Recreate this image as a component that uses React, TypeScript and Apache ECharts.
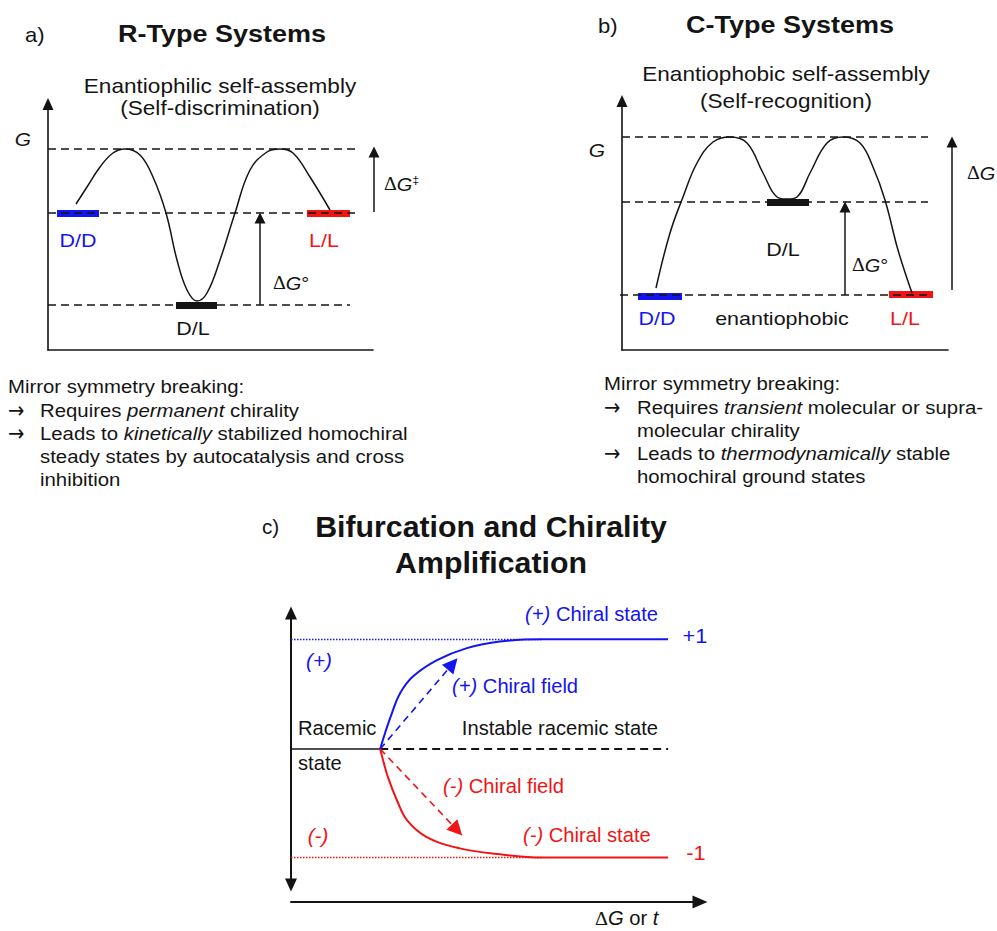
import React, { useEffect, useRef } from "react";
import * as echarts from "echarts";

const FONT = '"Liberation Sans", Arial, Helvetica, sans-serif';
const SERIF = '"Liberation Serif", "DejaVu Serif", serif';
const ARROWFONT = '"DejaVu Sans", sans-serif';
const INK = "#141414";
const BLUE = "#1414f0";
const RED = "#f01414";

// ---------- Panel a) R-type systems: free-energy profile (x = reaction coordinate, y = G)
const aCurveX = [28, 39, 52, 65, 77, 92, 105, 118, 129, 139, 149, 159, 172, 187, 202, 219, 232, 245, 262, 282];
const aCurveG = [146, 163, 183, 197, 201, 195, 173, 137, 90, 60, 49, 57, 90, 137, 180, 198, 201, 197, 173, 140];
const aLevelG = [201, 137, 45];
const aLevelEnd = [309, 309, 302];
const aStateNames = ["D/D", "L/L", "D/L"];
const aStateFrom = [9, 259, 128];
const aStateTo = [51, 302, 169];
const aStateG = [137, 137, 45];
const aArrowX = [212, 326];
const aArrowFrom = [45, 138];
const aArrowTo = [132, 198];

// ---------- Panel b) C-type systems
const bCurveX = [34, 48, 61, 75, 91, 108, 125, 141, 155, 165, 175, 188, 205, 221, 238, 251, 263, 276, 290];
const bCurveG = [62, 117, 153, 187, 208, 213, 207, 177, 153, 151, 153, 177, 207, 213, 207, 183, 150, 100, 57];
const bLevelG = [213, 148, 55];
const bLevelStart = [0, 0, -2];
const bLevelEnd = [306, 306, 306];
const bStateNames = ["D/D", "L/L", "D/L"];
const bStateFrom = [16, 267, 145];
const bStateTo = [60, 311, 187];
const bStateG = [54, 56, 148];
const bArrowX = [223, 330];
const bArrowFrom = [55, 60];
const bArrowTo = [143, 208];

// ---------- Panel c) bifurcation (x = ΔG or t, y = enantiomeric excess)
const cPlusT = [2.18, 2.3, 2.47, 2.67, 2.98, 3.57, 4.3, 5.11, 6.16, 9.22];
const cPlusEE = [0, 0.146, 0.33, 0.51, 0.66, 0.81, 0.92, 0.98, 1.0, 1.0];
const cMinusT = [2.18, 2.25, 2.37, 2.59, 2.84, 3.33, 4.13, 5.11, 6.16, 9.22];
const cMinusEE = [0, -0.1, -0.256, -0.467, -0.65, -0.805, -0.906, -0.96, -0.99, -0.99];
const cBifurcationT = 2.18;
const cEndT = 9.22;
const cDottedEndT = 6.16;
const cLimitEE = [1, -0.99];
const cFieldTipT = [3.95, 4.06];
const cFieldTipEE = [0.775, -0.738];

const stateColors = [BLUE, RED, INK];

type TOpt = {
  size?: number;
  color?: string;
  weight?: string;
  style?: string;
  align?: string;
  sx?: number;
  family?: string;
  rich?: any;
};

function txt(x: number, y: number, text: string, o: TOpt = {}) {
  return {
    type: "text",
    x,
    y,
    scaleX: o.sx ?? 1,
    silent: true,
    style: {
      text,
      fill: o.color ?? INK,
      fontSize: o.size ?? 18.5,
      fontFamily: o.family ?? FONT,
      fontWeight: o.weight ?? "normal",
      fontStyle: o.style ?? "normal",
      textAlign: o.align ?? "left",
      textVerticalAlign: "middle",
      verticalAlign: "middle",
      rich: o.rich,
    },
  };
}

function richSet(size: number, color: string) {
  return {
    n: { fontSize: size, fontFamily: FONT, fill: color, color },
    i: { fontSize: size, fontFamily: FONT, fontStyle: "italic", fill: color, color },
    d: { fontSize: size, fontFamily: SERIF, fill: color, color },
    s: { fontSize: size * 0.62, fontFamily: FONT, fill: color, color, verticalAlign: "top" },
  };
}

const hiddenBits = {
  axisTick: { show: false },
  axisLabel: { show: false },
  splitLine: { show: false },
};

function seg(x0: number, y0: number, x1: number, y1: number, color: string = INK) {
  return { coords: [[x0, y0], [x1, y1]], lineStyle: { color } };
}

function linesSeries(idx: number, data: any[], style: any, extra: any = {}) {
  return {
    type: "lines",
    coordinateSystem: "cartesian2d",
    xAxisIndex: idx,
    yAxisIndex: idx,
    polyline: false,
    silent: true,
    clip: false,
    lineStyle: { opacity: 1, curveness: 0, ...style },
    data,
    ...extra,
  };
}

function curveSeries(idx: number, xs: number[], ys: number[], color: string, width: number, z = 3) {
  return {
    type: "line",
    xAxisIndex: idx,
    yAxisIndex: idx,
    data: xs.map((x, i) => [x, ys[i]]),
    smooth: 0.4,
    showSymbol: false,
    symbol: "none",
    clip: false,
    silent: true,
    z,
    lineStyle: { color, width },
  };
}

export default function App() {
  const ref = useRef<HTMLDivElement>(null);

  useEffect(() => {
    if (!ref.current) return;
    const chart = echarts.init(ref.current, undefined, { renderer: "svg" });

    const SX = 1.13; // glyph width factor of the upper panels
    const CX = 1.035; // glyph width factor of panel c
    const rA = richSet(18.5, INK);
    const rLabel = richSet(19, INK);
    const rC = (c: string) => richSet(19.5, c);
    const arrow = (x: number, y: number) => txt(x, y, "→", { size: 23, family: ARROWFONT, sx: 0.85 });

    const graphics: any[] = [
      // ----- panel a
      txt(25, 35, "a)", { size: 20, sx: 1.1 }),
      txt(222, 34, "R-Type Systems", { size: 24, weight: "bold", align: "center", sx: 1.125 }),
      txt(220, 86, "Enantiophilic self-assembly", { size: 20, align: "center", sx: SX }),
      txt(220, 108, "(Self-discrimination)", { size: 20, align: "center", sx: SX }),
      txt(23, 139, "G", { size: 19, style: "italic", align: "center", sx: 1.1 }),
      txt(78, 240, "D/D", { size: 19, color: BLUE, align: "center", sx: SX }),
      txt(324, 240, "L/L", { size: 19, color: RED, align: "center", sx: SX }),
      txt(193, 328, "D/L", { size: 19, align: "center", sx: SX }),
      txt(273, 283, "{d|Δ}{i|G}{n|°}", { size: 19, sx: 1.05, rich: rLabel }),
      txt(384, 184, "{d|Δ}{i|G}{s|‡}", { size: 19, sx: 1.05, rich: rLabel }),
      txt(8, 386, "Mirror symmetry breaking:", { sx: 1.1 }),
      arrow(8, 410),
      txt(40, 410, "{n|Requires }{i|permanent}{n| chirality}", { sx: 1.1, rich: rA }),
      arrow(8, 433),
      txt(40, 433, "{n|Leads to }{i|kinetically}{n| stabilized homochiral}", { sx: 1.1, rich: rA }),
      txt(40, 456, "steady states by autocatalysis and cross", { sx: 1.1 }),
      txt(40, 479, "inhibition", { sx: 1.1 }),
      // ----- panel b
      txt(598, 26, "b)", { size: 20, sx: 1.1 }),
      txt(790, 25, "C-Type Systems", { size: 24, weight: "bold", align: "center", sx: 1.125 }),
      txt(786, 74, "Enantiophobic self-assembly", { size: 20, align: "center", sx: SX }),
      txt(786, 101, "(Self-recognition)", { size: 20, align: "center", sx: SX }),
      txt(597, 150, "G", { size: 19, style: "italic", align: "center", sx: 1.1 }),
      txt(657, 318, "D/D", { size: 19, color: BLUE, align: "center", sx: SX }),
      txt(782, 318, "enantiophobic", { size: 19, align: "center", sx: SX }),
      txt(905, 318, "L/L", { size: 19, color: RED, align: "center", sx: SX }),
      txt(783, 249, "D/L", { size: 19, align: "center", sx: SX }),
      txt(852, 265, "{d|Δ}{i|G}{n|°}", { size: 19, sx: 1.05, rich: rLabel }),
      txt(967, 173, "{d|Δ}{i|G}", { size: 19, sx: 1.05, rich: rLabel }),
      txt(604, 383, "Mirror symmetry breaking:", { sx: 1.1 }),
      arrow(604, 407),
      txt(637, 407, "{n|Requires }{i|transient}{n| molecular or supra-}", { sx: 1.1, rich: rA }),
      txt(637, 430, "molecular chirality", { sx: 1.1 }),
      arrow(604, 453),
      txt(637, 453, "{n|Leads to }{i|thermodynamically}{n| stable}", { sx: 1.1, rich: rA }),
      txt(637, 476, "homochiral ground states", { sx: 1.1 }),
      // ----- panel c
      txt(262, 527, "c)", { size: 20, sx: CX }),
      txt(491, 527, "Bifurcation and Chirality", { size: 29, weight: "bold", align: "center", sx: 1.045 }),
      txt(491, 563, "Amplification", { size: 29, weight: "bold", align: "center", sx: 1.045 }),
      txt(658, 614, "{i|(+)}{n| Chiral state}", { size: 19.5, align: "right", sx: CX, rich: rC(BLUE) }),
      txt(695, 636, "+1", { size: 21, color: BLUE, align: "center", sx: CX }),
      txt(319, 661, "(+)", { size: 20, color: BLUE, style: "italic", align: "center", sx: CX }),
      txt(452, 686, "{i|(+)}{n| Chiral field}", { size: 19.5, sx: CX, rich: rC(BLUE) }),
      txt(298, 728, "Racemic", { size: 19.5, sx: CX }),
      txt(658, 728, "Instable racemic state", { size: 19.5, align: "right", sx: CX }),
      txt(298, 763, "state", { size: 19.5, sx: CX }),
      txt(443, 786, "{i|(-)}{n| Chiral field}", { size: 19.5, sx: CX, rich: rC(RED) }),
      txt(318, 836, "(-)", { size: 20, color: RED, style: "italic", align: "center", sx: CX }),
      txt(523, 835, "{i|(-)}{n| Chiral state}", { size: 19.5, sx: CX, rich: rC(RED) }),
      txt(696, 853, "-1", { size: 21, color: RED, align: "center", sx: CX }),
      txt(595, 918, "{d|Δ}{i|G}{n| or }{i|t}", { size: 19.5, sx: CX, rich: rC(INK) }),
    ];

    const dash = [8, 5];

    const option: any = {
      animation: false,
      backgroundColor: "#ffffff",
      grid: [
        { left: 48, top: 104, width: 325, height: 246 },
        { left: 622, top: 101, width: 326, height: 249 },
        { left: 291, top: 613, width: 409, height: 272 },
      ],
      xAxis: [
        {
          gridIndex: 0, type: "value", min: 0, max: 325, ...hiddenBits,
          axisLine: { show: true, onZero: false, lineStyle: { color: INK, width: 1.6 } },
        },
        {
          gridIndex: 1, type: "value", min: 0, max: 326, ...hiddenBits,
          axisLine: { show: true, onZero: false, lineStyle: { color: INK, width: 1.6 } },
        },
        {
          gridIndex: 2, type: "value", min: 0, max: 10, offset: 17, ...hiddenBits,
          axisLine: {
            show: true, onZero: false, symbol: ["none", "triangle"], symbolSize: [13, 15],
            lineStyle: { color: INK, width: 2 },
          },
        },
      ],
      yAxis: [
        {
          gridIndex: 0, type: "value", min: 0, max: 246, ...hiddenBits,
          axisLine: {
            show: true, onZero: false, symbol: ["none", "triangle"], symbolSize: [11, 12],
            lineStyle: { color: INK, width: 1.6 },
          },
        },
        {
          gridIndex: 1, type: "value", min: 0, max: 249, ...hiddenBits,
          axisLine: {
            show: true, onZero: false, symbol: ["none", "triangle"], symbolSize: [11, 12],
            lineStyle: { color: INK, width: 1.6 },
          },
        },
        {
          gridIndex: 2, type: "value", min: -1.24, max: 1.24, ...hiddenBits,
          axisLine: {
            show: true, onZero: false, symbol: ["triangle", "triangle"], symbolSize: [12, 13],
            lineStyle: { color: INK, width: 2 },
          },
        },
      ],
      graphic: { elements: graphics },
      series: [
        // ----- panel a
        linesSeries(0, aStateNames.map((_, i) => seg(aStateFrom[i], aStateG[i], aStateTo[i], aStateG[i], stateColors[i])), { width: 7 }, { z: 1 }),
        linesSeries(0, aLevelG.map((g, i) => seg(0, g, aLevelEnd[i], g)), { width: 1.5, type: dash, color: INK }, { z: 2 }),
        curveSeries(0, aCurveX, aCurveG, INK, 1.5),
        linesSeries(0, aArrowX.map((x, i) => seg(x, aArrowFrom[i], x, aArrowTo[i])), { width: 1.5, color: INK }, {
          symbol: ["none", "triangle"], symbolSize: [10, 11], z: 4,
        }),
        // ----- panel b
        linesSeries(1, bStateNames.map((_, i) => seg(bStateFrom[i], bStateG[i], bStateTo[i], bStateG[i], stateColors[i])), { width: 7 }, { z: 1 }),
        linesSeries(1, bLevelG.map((g, i) => seg(bLevelStart[i], g, bLevelEnd[i], g)), { width: 1.5, type: dash, color: INK }, { z: 2 }),
        curveSeries(1, bCurveX, bCurveG, INK, 1.5),
        linesSeries(1, bArrowX.map((x, i) => seg(x, bArrowFrom[i], x, bArrowTo[i])), { width: 1.5, color: INK }, {
          symbol: ["none", "triangle"], symbolSize: [10, 11], z: 4,
        }),
        // ----- panel c
        linesSeries(2, [seg(0, cLimitEE[0], cDottedEndT, cLimitEE[0], BLUE), seg(0, cLimitEE[1], cDottedEndT, cLimitEE[1], RED)], {
          width: 1.3, type: [1.5, 1.5],
        }, { z: 1 }),
        linesSeries(2, [seg(0, 0, cBifurcationT, 0)], { width: 1.5, color: INK }, { z: 1 }),
        linesSeries(2, [seg(cBifurcationT, 0, cEndT, 0)], { width: 1.8, type: dash, color: INK }, { z: 1 }),
        curveSeries(2, cPlusT, cPlusEE, BLUE, 2),
        curveSeries(2, cMinusT, cMinusEE, RED, 2),
        linesSeries(2, [
          seg(cBifurcationT, 0, cFieldTipT[0], cFieldTipEE[0], BLUE),
          seg(cBifurcationT, 0, cFieldTipT[1], cFieldTipEE[1], RED),
        ], { width: 1.6, type: [7, 5] }, { symbol: ["none", "triangle"], symbolSize: [13, 15], z: 4 }),
      ],
    };

    chart.setOption(option);
    return () => chart.dispose();
  }, []);

  return (
    <div
      ref={ref}
      style={{ position: "fixed", left: 0, top: 0, width: 997, height: 931, background: "#fff" }}
    />
  );
}
